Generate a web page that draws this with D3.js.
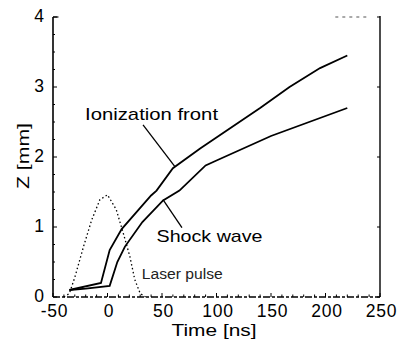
<!DOCTYPE html>
<html>
<head>
<meta charset="utf-8">
<script src="https://cdn.jsdelivr.net/npm/d3@7"></script>
<style>
  html, body { margin: 0; padding: 0; background: #fff; }
  svg { display: block; font-family: "Liberation Sans", Arial, Helvetica, sans-serif; }
</style>
</head>
<body>
<svg id="chart" width="399" height="339"></svg>
<script>
// ---- data ----
const ionTime  = [-35, -6, 2, 13, 27, 40, 45, 60, 85, 140, 167, 195, 220];
const ionZ     = [0.10, 0.20, 0.67, 0.97, 1.22, 1.45, 1.52, 1.84, 2.12, 2.70, 3.00, 3.27, 3.45];

const shockTime = [-35, -20, 2, 9, 16, 32, 51, 66, 90, 100, 150, 220];
const shockZ    = [0.10, 0.12, 0.16, 0.50, 0.72, 1.07, 1.38, 1.52, 1.88, 1.95, 2.30, 2.70];

const laserTime = [-40, -35, -30, -22, -14.5, -7, 0, 8, 14.5, 20.5, 25, 30, 35];
const laserZ    = [0, 0.05, 0.28, 0.72, 1.10, 1.39, 1.46, 1.25, 0.91, 0.58, 0.25, 0.05, 0];

const xTicks = [-50, 0, 50, 100, 150, 200, 250];
const yTicks = [0, 1, 2, 3, 4];

const xLabel = "Time [ns]";
const yLabel = "Z [mm]";
const labelIon = "Ionization front";
const labelShock = "Shock wave";
const labelLaser = "Laser pulse";

// ---- layout ----
const svg = d3.select("#chart");
const x = d3.scaleLinear().domain([-50, 250]).range([53, 380]);
const y = d3.scaleLinear().domain([0, 4]).range([297, 17]);

const zip = (a, b) => a.map((v, i) => [v, b[i]]);
const line = d3.line().x(d => x(d[0])).y(d => y(d[1]));

// frame: left (solid), right (solid), bottom (broken), top (mostly invisible)
svg.append("line").attr("x1", x(-50)).attr("x2", x(-50)).attr("y1", y(4)).attr("y2", y(0))
  .attr("stroke", "#000").attr("stroke-width", 1.6);
svg.append("line").attr("x1", x(250)).attr("x2", x(250)).attr("y1", y(4) - 1).attr("y2", y(0))
  .attr("stroke", "#000").attr("stroke-width", 1.4);
svg.append("line").attr("x1", x(-50)).attr("x2", x(250)).attr("y1", y(0)).attr("y2", y(0))
  .attr("stroke", "#000").attr("stroke-width", 1.4).attr("stroke-dasharray", "7,2,3,2");
svg.append("line").attr("x1", x(-50)).attr("x2", x(-45)).attr("y1", y(4)).attr("y2", y(4))
  .attr("stroke", "#000").attr("stroke-width", 1.2);
svg.append("line").attr("x1", x(209)).attr("x2", x(241)).attr("y1", y(4)).attr("y2", y(4))
  .attr("stroke", "#555").attr("stroke-width", 1.2).attr("stroke-dasharray", "3,4");

// y ticks (inward, left & right)
const yMinor = d3.range(0, 4.01, 0.25);
svg.append("g").selectAll("line").data(yMinor).join("line")
  .attr("x1", x(-50)).attr("x2", d => x(-50) + (Number.isInteger(d) ? 4 : 2))
  .attr("y1", d => y(d)).attr("y2", d => y(d))
  .attr("stroke", "#000").attr("stroke-width", 1);
svg.append("g").selectAll("line").data(yTicks).join("line")
  .attr("x1", x(250)).attr("x2", x(250) - 3)
  .attr("y1", d => y(d)).attr("y2", d => y(d))
  .attr("stroke", "#000").attr("stroke-width", 1);

// x ticks (inward, upward)
const xMinor = d3.range(-50, 251, 10);
svg.append("g").selectAll("line").data(xMinor).join("line")
  .attr("x1", d => x(d)).attr("x2", d => x(d))
  .attr("y1", y(0)).attr("y2", d => y(0) - (d % 50 === 0 ? 4 : 2.5))
  .attr("stroke", "#000").attr("stroke-width", 1);

// tick labels
svg.append("g").selectAll("text").data(xTicks).join("text")
  .attr("x", d => x(d) + 1.5).attr("y", 317)
  .attr("text-anchor", "middle").attr("font-size", 17.5)
  .attr("letter-spacing", 0.8)
  .text(d => d);
svg.append("g").selectAll("text").data(yTicks).join("text")
  .attr("x", 44).attr("y", d => y(d) + 4.5)
  .attr("text-anchor", "end").attr("font-size", 17.5)
  .text(d => d);

// axis titles
svg.append("text").attr("x", 214).attr("y", 335.5)
  .attr("text-anchor", "middle").attr("font-size", 16.5)
  .attr("textLength", 85).attr("lengthAdjust", "spacingAndGlyphs")
  .text(xLabel);
svg.append("text").attr("transform", "translate(29,156) rotate(-90)")
  .attr("text-anchor", "middle").attr("font-size", 17)
  .attr("textLength", 66).attr("lengthAdjust", "spacingAndGlyphs")
  .text(yLabel);

// curves
svg.append("path").datum(zip(laserTime, laserZ)).attr("d", line)
  .attr("fill", "none").attr("stroke", "#000").attr("stroke-width", 1.3)
  .attr("stroke-dasharray", "1.5,2.5");
svg.append("path").datum(zip(shockTime, shockZ)).attr("d", line)
  .attr("fill", "none").attr("stroke", "#000").attr("stroke-width", 1.8);
svg.append("path").datum(zip(ionTime, ionZ)).attr("d", line)
  .attr("fill", "none").attr("stroke", "#000").attr("stroke-width", 1.8);

// annotations (pointer lines from labels to curves)
const ann = (t1, z1, t2, z2) => svg.append("line")
  .attr("x1", x(t1)).attr("y1", y(z1)).attr("x2", x(t2)).attr("y2", y(z2))
  .attr("stroke", "#000").attr("stroke-width", 1.3);
ann(32.6, 2.46, 61.5, 1.87);
ann(68.3, 0.99, 50.9, 1.39);

svg.append("text").attr("x", x(-20.6)).attr("y", 120).attr("font-size", 17)
  .attr("textLength", 133).attr("lengthAdjust", "spacingAndGlyphs").text(labelIon);
svg.append("text").attr("x", x(45)).attr("y", 242).attr("font-size", 17)
  .attr("textLength", 106).attr("lengthAdjust", "spacingAndGlyphs").text(labelShock);
svg.append("text").attr("x", x(31.5)).attr("y", 279).attr("font-size", 14)
  .attr("fill", "#222")
  .attr("textLength", 81).attr("lengthAdjust", "spacingAndGlyphs").text(labelLaser);
</script>
</body>
</html>
